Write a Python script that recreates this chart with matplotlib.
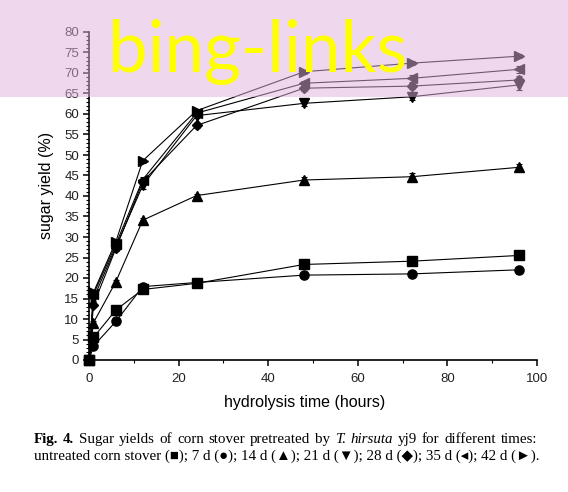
import matplotlib
matplotlib.use("Agg")
import matplotlib.pyplot as plt
from matplotlib.patches import Rectangle
from matplotlib.ticker import MultipleLocator

# hydrolysis time (h) and sugar yield (%) per pretreatment time
hours = [0, 1, 6, 12, 24, 48, 72, 96]
untreated = [0, 5.5, 12.2, 17.2, 18.7, 23.3, 24.1, 25.5]
d7 = [0, 3.4, 9.4, 17.9, 18.9, 20.7, 21.0, 22.0]
d14 = [0, 9.1, 19.1, 34.1, 40.1, 43.9, 44.7, 47.0]
d21 = [0, 15.0, 27.6, 42.6, 59.6, 62.6, 64.2, 67.1]
d28 = [0, 13.5, 27.2, 43.5, 57.2, 66.3, 66.8, 68.3]
d35 = [0, 16.0, 28.2, 44.0, 60.2, 67.5, 68.7, 70.9]
d42 = [0, 16.5, 28.9, 48.6, 60.8, 70.3, 72.4, 74.1]

# standard deviations (small, read from the error caps)
err_untreated = [0, 0.4, 0.5, 0.8, 0.8, 0.5, 0.5, 0.5]
err_d7 = [0, 0.4, 0.4, 0.6, 1.2, 0.4, 0.4, 0.4]
err_d14 = [0, 0.5, 0.5, 0.6, 0.5, 0.8, 0.8, 0.8]
err_d21 = [0, 0.6, 0.6, 0.8, 0.6, 0.6, 0.8, 1.3]
err_d28 = [0, 0.6, 0.6, 0.8, 0.6, 0.8, 0.8, 1.0]
err_d35 = [0, 0.6, 0.6, 0.6, 0.6, 0.6, 0.8, 0.8]
err_d42 = [0, 0.5, 0.5, 0.5, 0.5, 0.5, 0.5, 0.5]

series = [
    (untreated, err_untreated, "s"),
    (d7, err_d7, "o"),
    (d14, err_d14, "^"),
    (d21, err_d21, "v"),
    (d28, err_d28, "D"),
    (d35, err_d35, "<"),
    (d42, err_d42, ">"),
]

plt.rcParams["font.family"] = ["Liberation Sans", "DejaVu Sans"]

fig = plt.figure(figsize=(5.68, 4.92), dpi=100)
W, H = 568.0, 492.0
ax = fig.add_axes([89 / W, 132 / H, 448 / W, 328 / H])

for vals, err, mk in series:
    ms = 5.6 if mk == "D" else 6.6
    ax.errorbar(hours, vals, yerr=err, color="black", marker=mk, ms=ms,
                lw=0.8, elinewidth=0.8, capsize=2.0, capthick=0.8,
                clip_on=False, zorder=3)

ax.set_xlim(0, 100)
ax.set_ylim(0, 80)
ax.xaxis.set_major_locator(MultipleLocator(20))
ax.xaxis.set_minor_locator(MultipleLocator(10))
ax.yaxis.set_major_locator(MultipleLocator(5))
ax.yaxis.set_minor_locator(MultipleLocator(1))
for side in ("top", "right"):
    ax.spines[side].set_visible(False)
for side in ("left", "bottom"):
    ax.spines[side].set_linewidth(1.2)
ax.tick_params(which="major", direction="out", length=4.5, width=1.1,
               labelsize=9.5, labelcolor="#222222", pad=2.5)
ax.tick_params(axis="x", which="major", pad=5)
ax.tick_params(which="minor", direction="out", length=2.2, width=0.8)

fig.text(47 / W, 1 - 185 / H, "sugar yield (%)", rotation=90,
         ha="center", va="center", fontsize=11.5)
fig.text(305 / W, 1 - 403 / H, "hydrolysis time (hours)",
         ha="center", va="center", fontsize=11.5)

# caption: first line justified word by word
serif = ["Liberation Serif", "DejaVu Serif"]
line1 = [("Fig.", "bold", "normal"), ("4.", "bold", "normal"),
         ("Sugar", "normal", "normal"), ("yields", "normal", "normal"),
         ("of", "normal", "normal"), ("corn", "normal", "normal"),
         ("stover", "normal", "normal"), ("pretreated", "normal", "normal"),
         ("by", "normal", "normal"), ("T.", "normal", "italic"),
         ("hirsuta", "normal", "italic"), ("yj9", "normal", "normal"),
         ("for", "normal", "normal"), ("different", "normal", "normal"),
         ("times:", "normal", "normal")]
cap_size = 10.8
left_px, right_px = 34, 537
renderer = fig.canvas.get_renderer()
words = []
for w, wt, st in line1:
    t = fig.text(0, 1 - 443 / H, w, fontsize=cap_size, family=serif,
                 fontweight=wt, fontstyle=st, va="baseline", ha="left")
    words.append((t, t.get_window_extent(renderer).width))
total = sum(wd for _, wd in words)
gap = (right_px - left_px - total) / (len(words) - 1)
x = left_px
for t, wd in words:
    t.set_x(x / W)
    x += wd + gap

fig.text(left_px / W, 1 - 460 / H,
         "untreated corn stover (\u25a0); 7 d (\u25cf); 14 d (\u25b2); "
         "21 d (\u25bc); 28 d (\u25c6); 35 d (\u25c2); 42 d (\u25ba).",
         fontsize=cap_size, family=["Liberation Serif", "DejaVu Sans"],
         va="baseline", ha="left")

# translucent pink banner with yellow text across the top
fig.add_artist(Rectangle((0, 1 - 97 / H), 1, 97 / H, transform=fig.transFigure,
                         facecolor="#e1b1dd", edgecolor="none", alpha=0.5,
                         zorder=5))
fig.text(258 / W, 1 - 72 / H, "bing-links", fontsize=51, color="#ffff00",
         family=["Lato", "DejaVu Sans"], ha="center", va="baseline",
         zorder=6)

fig.savefig("out.png", dpi=100)
